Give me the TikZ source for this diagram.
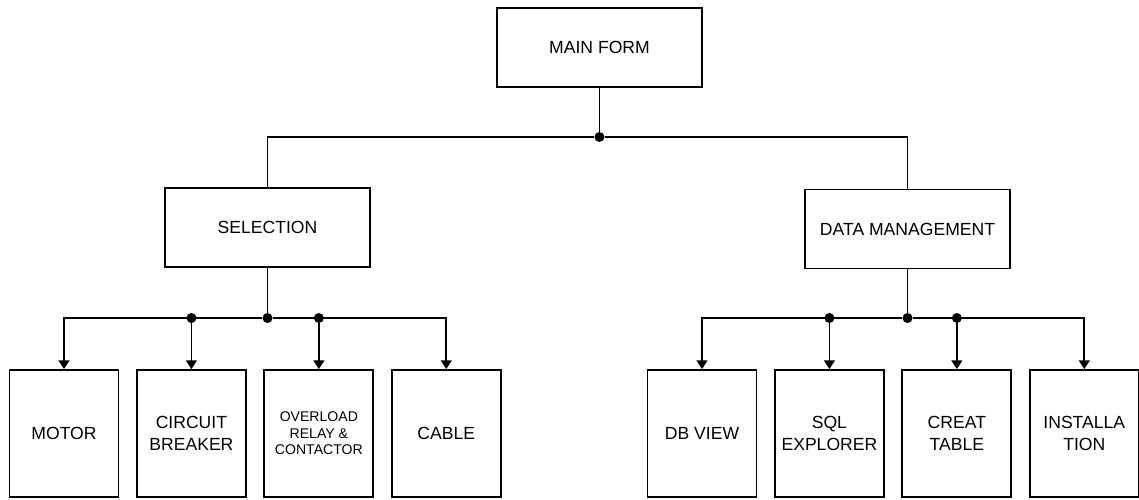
\documentclass[tikz,border=0pt]{standalone}
\usepackage{fontspec}
\setmainfont{Liberation Sans}
\usetikzlibrary{arrows.meta,positioning}
\tikzset{
  formbox/.style={
    draw,
    line width=1.5pt,
    minimum width=6.15cm,
    minimum height=2.37cm,
    align=center,
    font=\fontsize{15}{18.7}\selectfont
  },
  leafbox/.style={
    draw,
    line width=1.5pt,
    minimum width=3.27cm,
    minimum height=3.81cm,
    inner sep=1pt,
    align=center,
    font=\fontsize{15}{18.7}\selectfont
  },
  link/.style={line width=1.5pt},
  arrow/.style={
    -{Triangle[length=2.6mm,width=3.2mm]},
    line width=1.5pt
  },
  junction/.style={circle, fill, inner sep=0pt, minimum size=3mm}
}

\begin{document}
\begin{tikzpicture}[x=0.03cm, y=-0.03cm, node distance=0.5cm]
\useasboundingbox (0,0) rectangle (1139,499);
\node[formbox] (main) at (599.5,47.5) {MAIN FORM};
\node[formbox] (sel) at (267.5,227.5) {SELECTION};
\node[formbox] (dm) at (907.5,229) {DATA MANAGEMENT};
% selection modules
\node[leafbox] (motor) at (64,433.5) {MOTOR};
\node[leafbox, right=of motor] (breaker) {CIRCUIT\\BREAKER};
\node[leafbox, right=of breaker, font=\fontsize{12}{14.2}\selectfont] (relay) {OVERLOAD\\RELAY \&\\CONTACTOR};
\node[leafbox, right=of relay] (cable) {CABLE};
% data management modules
\node[leafbox] (dbview) at (702,433.5) {DB VIEW};
\node[leafbox, right=of dbview] (sqlexp) {SQL\\EXPLORER};
\node[leafbox, right=of sqlexp] (creat) {CREAT\\TABLE};
\node[leafbox, right=of creat] (install) {INSTALLA\\TION};
% junctions
\coordinate (bus) at (0,318);
\node[junction] (jmain) at (main.south |- 0,137) {};
\node[junction] (jsel) at (sel.south |- bus) {};
\node[junction] (jbreaker) at (breaker.north |- bus) {};
\node[junction] (jrelay) at (relay.north |- bus) {};
\node[junction] (jdm) at (dm.south |- bus) {};
\node[junction] (jsqlexp) at (sqlexp.north |- bus) {};
\node[junction] (jcreat) at (creat.north |- bus) {};
% connectors
\draw[link] (main) -- (jmain);
\draw[link] (sel) |- (jmain) -| (dm);
\draw[link] (sel) -- (jsel);
\draw[arrow] (jsel) -| (motor);
\draw[arrow] (jsel) -| (cable);
\draw[arrow] (jbreaker) -- (breaker);
\draw[arrow] (jrelay) -- (relay);
\draw[link] (dm) -- (jdm);
\draw[arrow] (jdm) -| (dbview);
\draw[arrow] (jdm) -| (install);
\draw[arrow] (jsqlexp) -- (sqlexp);
\draw[arrow] (jcreat) -- (creat);
\end{tikzpicture}
\end{document}
